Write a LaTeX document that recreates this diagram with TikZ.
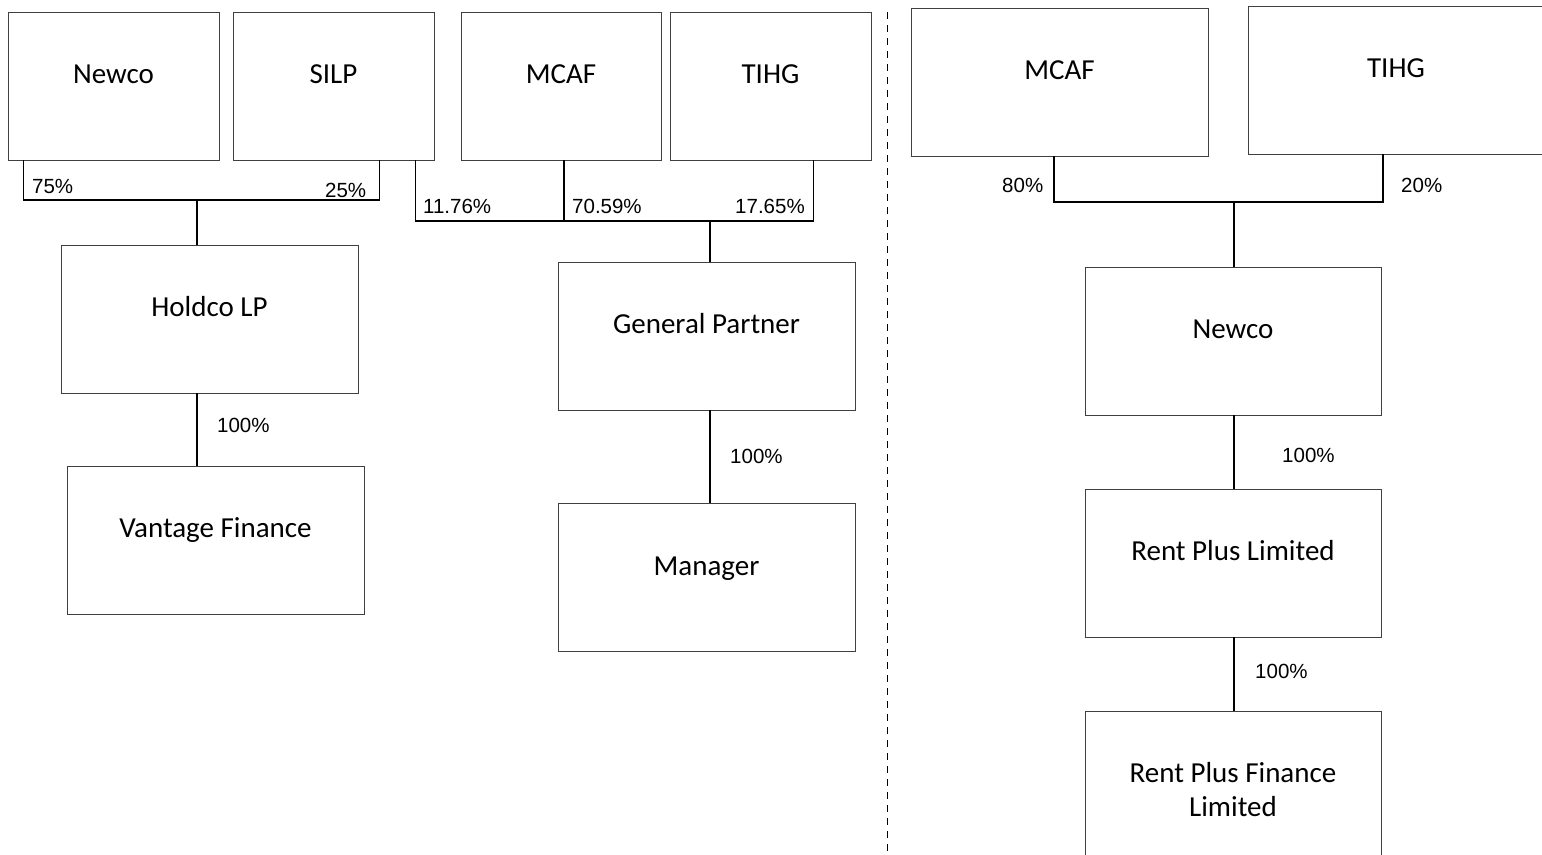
\documentclass[tikz,border=0pt]{standalone}
\usepackage{fontspec}
\setmainfont{Carlito}
\newfontfamily\pctfont{Liberation Sans}
\usetikzlibrary{positioning}

\tikzset{
  box/.style={draw=black!75, line width=0.8pt, minimum height=148pt, inner sep=0pt},
  firm/.style={box, label={[firmtext]north:#1}},
  firmtext/.style={anchor=north, yshift=-50pt, inner sep=0pt, text height=22pt,
    align=center, font={\fontsize{29pt}{34pt}\selectfont}},
  own/.style={line width=1.3pt},
  pct/.style={anchor=base west, inner sep=0pt, font={\pctfont\fontsize{20.5pt}{24pt}\selectfont}}
}

\begin{document}
\begin{tikzpicture}[x=1pt, y=-1pt]
   \useasboundingbox (0,0) rectangle (1542,854);

   % left: Holdco LP
   \node[firm=Newco, minimum width=211pt] (newcoL) at (113.5,86) {};
   \node[firm=SILP, minimum width=201pt] (silp) at (333.5,86) {};
   \node[firm=Holdco LP, minimum width=297pt] (holdco) at (209.5,319) {};
   \node[firm=Vantage Finance, minimum width=297pt] (vantage) at (215.5,540) {};

   \coordinate (jL) at (197,200);
   \draw[own] ([xshift=16pt]newcoL.south west) |- (jL) -| ([xshift=-55pt]silp.south east);
   \draw[own] (jL) -- (jL |- holdco.north);
   \draw[own] (holdco.south -| jL) -- (vantage.north -| jL);
   \node[pct] (pNewco) at (32,193) {75\%};
   \node[pct] (pSilp) at (325,197) {25\%};
   \node[pct] (pHoldco) at (217,432) {100\%};

   % middle: General Partner
   \node[firm=MCAF, minimum width=200pt] (mcafL) at (561,86) {};
   \node[firm=TIHG, minimum width=201pt] (tihgL) at (770.5,86) {};
   \node[firm=General Partner, minimum width=297pt] (gp) at (706.5,336) {};
   \node[firm=Manager, minimum width=297pt] (manager) at (706.5,577.5) {};

   \coordinate (jM) at (710,221);
   \draw[own] ([xshift=-19pt]silp.south east) |- (jM) -| ([xshift=-58pt]tihgL.south east);
   \draw[own] ([xshift=3pt]mcafL.south) -- ([xshift=3pt]mcafL.south |- jM);
   \draw[own] (jM) -- (jM |- gp.north);
   \draw[own] (gp.south -| jM) -- (manager.north -| jM);
   \node[pct] (pSilpGp) at (423,213) {11.76\%};
   \node[pct] (pMcafGp) at (572,213) {70.59\%};
   \node[pct] (pTihgGp) at (735,213) {17.65\%};
   \node[pct] (pGp) at (730,463) {100\%};

   \coordinate (cutT) at (887,12);
   \coordinate (cutB) at (887,854);
   \draw[line width=1pt, dash pattern=on 7pt off 6pt] (cutT) -- (cutB);

   % right: Rent Plus
   \node[firm=MCAF, minimum width=297pt] (mcafR) at (1059.5,82) {};
   \node[firm=TIHG, minimum width=296pt] (tihgR) at (1396,80) {};
   \node[firm=Newco, minimum width=296pt] (newcoR) at (1233,341) {};
   \node[firm=Rent Plus Limited, minimum width=296pt] (rpl) at (1233,563) {};
   \node[box, minimum width=296pt,
     label={[firmtext, yshift=-34pt]north:Rent Plus Finance\\Limited}] (rpfl) at (1233,785) {};

   \coordinate (jR) at (1234,202);
   \draw[own] ([xshift=-5.5pt]mcafR.south) |- (jR) -| ([xshift=-13pt]tihgR.south);
   \draw[own] (jR) -- (jR |- newcoR.north);
   \draw[own] (newcoR.south -| jR) -- (rpl.north -| jR);
   \draw[own] (rpl.south -| jR) -- (rpfl.north -| jR);
   \node[pct] (pMcafR) at (1002,192) {80\%};
   \node[pct] (pTihgR) at (1401,192) {20\%};
   \node[pct] (pNewcoR) at (1282,462) {100\%};
   \node[pct] (pRpl) at (1255,678) {100\%};
\end{tikzpicture}
\end{document}
